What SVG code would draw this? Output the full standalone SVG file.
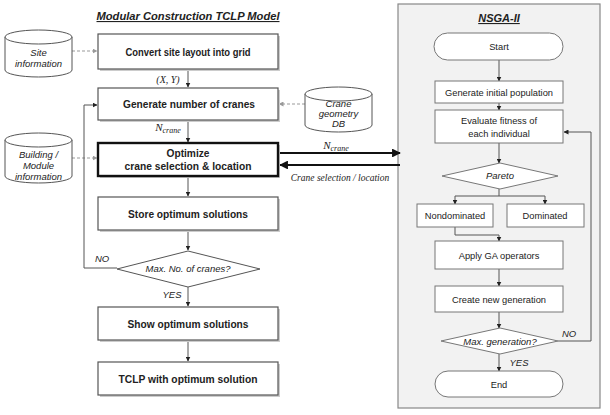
<svg xmlns="http://www.w3.org/2000/svg" width="610" height="415" viewBox="0 0 610 415">
<style>
.box{fill:#fff;stroke:#555;stroke-width:1.2}
.thick{fill:#fff;stroke:#111;stroke-width:2.4}
.sh{fill:#ccc}
.rbox{fill:#fff;stroke:#777;stroke-width:1}
.lt{font-family:"Liberation Sans",Arial,sans-serif;font-size:11px;font-weight:bold;fill:#222;text-anchor:middle}
.rt{font-family:"Liberation Sans",Arial,sans-serif;font-size:9.3px;fill:#222;text-anchor:middle}
.it{font-family:"Liberation Sans",Arial,sans-serif;font-size:9.5px;font-style:italic;fill:#222;text-anchor:middle}
.ser{font-family:"Liberation Serif","Times New Roman",serif;font-style:italic;fill:#222}
.ttl{font-family:"Liberation Sans",Arial,sans-serif;font-size:11px;font-weight:bold;font-style:italic;fill:#222;text-anchor:middle;text-decoration:underline}
.ln{fill:none;stroke:#555;stroke-width:1}
.dash{fill:none;stroke:#999;stroke-width:1;stroke-dasharray:3,2}
.bold{fill:none;stroke:#111;stroke-width:2.2}
.cyl{fill:#fff;stroke:#555;stroke-width:1}
</style>
<defs>
<marker id="a" viewBox="0 0 10 10" refX="9" refY="5" markerWidth="5" markerHeight="5" orient="auto"><path d="M0,0L10,5L0,10z" fill="#222"/></marker>
<marker id="ag" viewBox="0 0 10 10" refX="9" refY="5" markerWidth="5" markerHeight="5" orient="auto"><path d="M0,0L10,5L0,10z" fill="#999"/></marker>
<marker id="ab" viewBox="0 0 10 10" refX="9" refY="5" markerWidth="4" markerHeight="4" orient="auto"><path d="M0,0L10,5L0,10z" fill="#111"/></marker>
</defs>
<rect width="610" height="415" fill="#fff"/>
<g id="nsga-panel">
<rect x="398" y="4" width="202" height="404" fill="#f2f2f2" stroke="#888" stroke-width="1.2"/>
<text x="499" y="22" class="ttl">NSGA-II</text>
</g>
<text x="188" y="20" class="ttl" textLength="183" lengthAdjust="spacingAndGlyphs">Modular Construction TCLP Model</text>

<g id="connectors">
<line x1="72" y1="51" x2="97" y2="51" class="dash" marker-end="url(#ag)"/>
<line x1="72" y1="158" x2="97" y2="158" class="dash" marker-end="url(#ag)"/>
<line x1="305" y1="104" x2="279" y2="104" class="dash" marker-end="url(#ag)"/>
<line x1="188" y1="69" x2="188" y2="87" class="ln" marker-end="url(#a)"/>
<line x1="188" y1="120" x2="188" y2="142" class="ln" marker-end="url(#a)"/>
<line x1="188" y1="177" x2="188" y2="196" class="ln" marker-end="url(#a)"/>
<line x1="188" y1="230" x2="188" y2="250" class="ln" marker-end="url(#a)"/>
<line x1="188" y1="287" x2="188" y2="306" class="ln" marker-end="url(#a)"/>
<line x1="188" y1="340" x2="188" y2="361" class="ln" marker-end="url(#a)"/>
<polyline points="117,268 84,268 84,105 97,105" class="ln" marker-end="url(#a)"/>
<line x1="279" y1="153" x2="400" y2="153" class="bold" marker-end="url(#ab)"/>
<line x1="400" y1="165" x2="280" y2="165" class="bold" marker-end="url(#ab)"/>
<line x1="499" y1="60" x2="499" y2="81" class="ln" marker-end="url(#a)"/>
<line x1="499" y1="103" x2="499" y2="110" class="ln" marker-end="url(#a)"/>
<line x1="499" y1="143" x2="499" y2="163" class="ln" marker-end="url(#a)"/>
<polyline points="499,189 499,196" class="ln"/>
<polyline points="455,196 545,196" class="ln"/>
<line x1="455" y1="196" x2="455" y2="204" class="ln" marker-end="url(#a)"/>
<line x1="545" y1="196" x2="545" y2="204" class="ln" marker-end="url(#a)"/>
<polyline points="455,227 455,235 499,235 499,241" class="ln" marker-end="url(#a)"/>
<line x1="499" y1="269" x2="499" y2="286" class="ln" marker-end="url(#a)"/>
<line x1="499" y1="312" x2="499" y2="328" class="ln" marker-end="url(#a)"/>
<line x1="499" y1="354" x2="499" y2="371" class="ln" marker-end="url(#a)"/>
<polyline points="558,341 591,341 591,132 564,132" class="ln" marker-end="url(#a)"/>
</g>

<g id="labels">
<text x="168" y="83" class="ser" font-size="10" text-anchor="middle">(X, Y)</text>
<text x="168" y="131" class="ser" font-size="11" text-anchor="middle">N<tspan font-size="8" dy="2">crane</tspan></text>
<text x="336" y="149" class="ser" font-size="11" text-anchor="middle">N<tspan font-size="8" dy="2">crane</tspan></text>
<text x="340" y="181" class="ser" font-size="9.5" text-anchor="middle">Crane selection / location</text>
<text x="102" y="262" class="it">NO</text>
<text x="172" y="298" class="it">YES</text>
<text x="569" y="337" class="it" font-size="8">NO</text>
<text x="519" y="366" class="it" font-size="8">YES</text>
</g>

<g id="site-info">
<path d="M5,37 L5,70 A33.5,7 0 0 0 72,70 L72,37" class="cyl"/>
<ellipse cx="38.5" cy="37" rx="33.5" ry="7" class="cyl"/>
<text x="38.5" y="56" class="it">Site</text>
<text x="38.5" y="67" class="it">information</text>
</g>
<g id="building-info">
<path d="M5,140 L5,176 A33.5,7 0 0 0 72,176 L72,140" class="cyl"/>
<ellipse cx="38.5" cy="140" rx="33.5" ry="7" class="cyl"/>
<text x="38.5" y="158" class="it">Building /</text>
<text x="38.5" y="169" class="it">Module</text>
<text x="38.5" y="180" class="it">information</text>
</g>
<g id="crane-db">
<path d="M305,94 L305,125 A33.5,7 0 0 0 372,125 L372,94" class="cyl"/>
<ellipse cx="338.5" cy="94" rx="33.5" ry="7" class="cyl"/>
<text x="338.5" y="107" class="it">Crane</text>
<text x="338.5" y="117" class="it">geometry</text>
<text x="338.5" y="127" class="it">DB</text>
</g>

<g id="convert">
<rect x="100" y="36" width="180" height="35" class="sh"/>
<rect x="98" y="34" width="180" height="35" class="box"/>
<text x="188" y="56" class="lt" textLength="125" lengthAdjust="spacingAndGlyphs">Convert site layout into grid</text>
</g>
<g id="generate-cranes">
<rect x="100" y="90" width="180" height="32" class="sh"/>
<rect x="98" y="88" width="180" height="32" class="box"/>
<text x="189" y="108" class="lt" textLength="132" lengthAdjust="spacingAndGlyphs">Generate number of cranes</text>
</g>
<g id="optimize">
<rect x="100" y="145" width="180" height="33" class="sh"/>
<rect x="98" y="143" width="180" height="33" class="thick"/>
<text x="188" y="157" class="lt" textLength="43" lengthAdjust="spacingAndGlyphs">Optimize</text>
<text x="188" y="170" class="lt" textLength="127" lengthAdjust="spacingAndGlyphs">crane selection &amp; location</text>
</g>
<g id="store">
<rect x="100" y="199" width="180" height="33" class="sh"/>
<rect x="98" y="197" width="180" height="33" class="box"/>
<text x="188" y="218" class="lt" textLength="120" lengthAdjust="spacingAndGlyphs">Store optimum solutions</text>
</g>
<g id="max-cranes">
<polygon points="188,251 260,269 188,287 117,269" fill="#fff" stroke="#555" stroke-width="1"/>
<text x="188" y="272" class="it" font-size="9">Max. No. of cranes?</text>
</g>
<g id="show">
<rect x="100" y="309" width="180" height="33" class="sh"/>
<rect x="98" y="307" width="180" height="33" class="box"/>
<text x="188" y="328" class="lt" textLength="121" lengthAdjust="spacingAndGlyphs">Show optimum solutions</text>
</g>
<g id="tclp">
<rect x="100" y="364" width="180" height="33" class="sh"/>
<rect x="98" y="362" width="180" height="33" class="box"/>
<text x="188" y="383" class="lt" textLength="139" lengthAdjust="spacingAndGlyphs">TCLP with optimum solution</text>
</g>

<g id="start">
<rect x="434" y="33" width="129" height="27" rx="13.5" class="rbox"/>
<text x="499" y="50" class="rt">Start</text>
</g>
<g id="gen-pop">
<rect x="435" y="81" width="128" height="22" class="rbox"/>
<text x="499" y="95.5" class="rt">Generate initial population</text>
</g>
<g id="evaluate">
<rect x="435" y="110" width="128" height="33" class="rbox"/>
<text x="499" y="124" class="rt">Evaluate fitness of</text>
<text x="499" y="137" class="rt">each individual</text>
</g>
<g id="pareto">
<polygon points="500,163 558,176 500,189 442,176" fill="#fff" stroke="#777" stroke-width="1"/>
<text x="500" y="179" class="it" font-size="9.5">Pareto</text>
</g>
<g id="nondominated">
<rect x="417" y="204" width="76" height="23" class="rbox"/>
<text x="455" y="219" class="rt">Nondominated</text>
</g>
<g id="dominated">
<rect x="507" y="204" width="77" height="23" class="rbox"/>
<text x="545" y="219" class="rt">Dominated</text>
</g>
<g id="apply-ga">
<rect x="435" y="241" width="128" height="28" class="rbox"/>
<text x="499" y="258.5" class="rt">Apply GA operators</text>
</g>
<g id="new-gen">
<rect x="435" y="286" width="128" height="26" class="rbox"/>
<text x="499" y="302.5" class="rt">Create new generation</text>
</g>
<g id="max-gen">
<polygon points="500,328 558,341 500,354 441,341" fill="#fff" stroke="#777" stroke-width="1"/>
<text x="500" y="345" class="it" font-size="10">Max. generation?</text>
</g>
<g id="end">
<rect x="435" y="371" width="128" height="26" rx="13" class="rbox"/>
<text x="499" y="387.5" class="rt">End</text>
</g>
</svg>
